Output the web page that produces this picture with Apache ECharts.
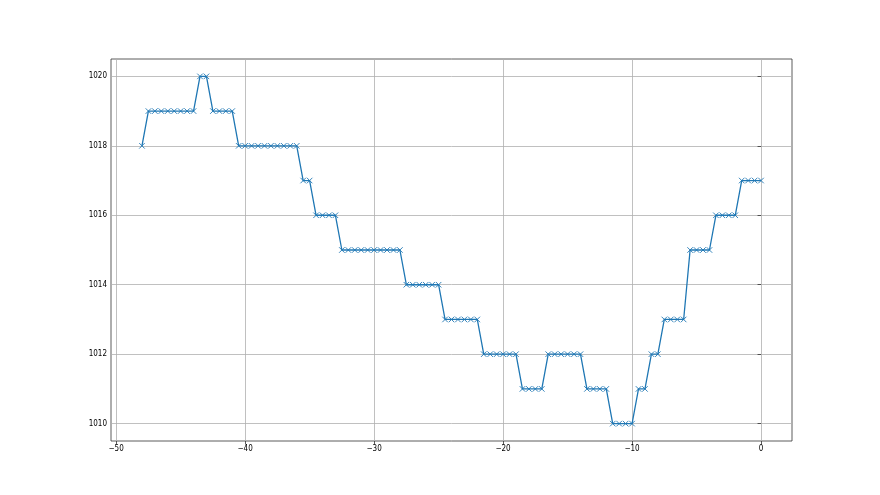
<!DOCTYPE html>
<html>
<head>
<meta charset="utf-8">
<script src="https://cdn.jsdelivr.net/npm/echarts@6/dist/echarts.min.js"></script>
<style>
html,body{margin:0;padding:0;background:#fff;}
#chart{width:880px;height:495px;}
</style>
</head>
<body>
<div id="chart"></div>
<script>
const xValues = [
  -48, -47.5, -47, -46.5, -46, -45.5, -45, -44.5, -44, -43.5, -43, -42.5, -42, -41.5, -41, -40.5,
  -40, -39.5, -39, -38.5, -38, -37.5, -37, -36.5, -36, -35.5, -35, -34.5, -34, -33.5, -33, -32.5,
  -32, -31.5, -31, -30.5, -30, -29.5, -29, -28.5, -28, -27.5, -27, -26.5, -26, -25.5, -25, -24.5,
  -24, -23.5, -23, -22.5, -22, -21.5, -21, -20.5, -20, -19.5, -19, -18.5, -18, -17.5, -17, -16.5,
  -16, -15.5, -15, -14.5, -14, -13.5, -13, -12.5, -12, -11.5, -11, -10.5, -10, -9.5, -9, -8.5,
  -8, -7.5, -7, -6.5, -6, -5.5, -5, -4.5, -4, -3.5, -3, -2.5, -2, -1.5, -1, -0.5, 0
];
const pressure = [
  1018,
  1019, 1019, 1019, 1019, 1019, 1019, 1019, 1019,
  1020, 1020,
  1019, 1019, 1019, 1019,
  1018, 1018, 1018, 1018, 1018, 1018, 1018, 1018, 1018, 1018,
  1017, 1017,
  1016, 1016, 1016, 1016,
  1015, 1015, 1015, 1015, 1015, 1015, 1015, 1015, 1015, 1015,
  1014, 1014, 1014, 1014, 1014, 1014,
  1013, 1013, 1013, 1013, 1013, 1013,
  1012, 1012, 1012, 1012, 1012, 1012,
  1011, 1011, 1011, 1011,
  1012, 1012, 1012, 1012, 1012, 1012,
  1011, 1011, 1011, 1011,
  1010, 1010, 1010, 1010,
  1011, 1011,
  1012, 1012,
  1013, 1013, 1013, 1013,
  1015, 1015, 1015, 1015,
  1016, 1016, 1016, 1016,
  1017, 1017, 1017, 1017
];
const xTicks = [-50, -40, -30, -20, -10, 0];
const yTicks = [1010, 1012, 1014, 1016, 1018, 1020];

const chart = echarts.init(document.getElementById('chart'), null, {renderer: 'canvas'});
const fontFamily = "'DejaVu Sans Condensed', 'DejaVu Sans', sans-serif";
const fmt = v => String(v).replace('-', '\u2212');

chart.setOption({
  animation: false,
  backgroundColor: '#ffffff',
  grid: {
    left: 111, right: 88, top: 59, bottom: 54,
    show: true, borderColor: '#333333', borderWidth: 0.8, backgroundColor: 'transparent'
  },
  xAxis: {
    type: 'value',
    min: -50.4, max: 2.4,
    axisLine: {show: false},
    axisTick: {show: true, customValues: xTicks, length: 3.5, lineStyle: {color: '#333333', width: 0.8}},
    axisLabel: {customValues: xTicks, formatter: fmt, color: '#000', fontSize: 8, fontFamily: fontFamily, margin: 4},
    splitLine: {show: true, lineStyle: {color: '#b0b0b0', width: 0.8}}
  },
  yAxis: {
    type: 'value',
    min: 1009.5, max: 1020.5,
    axisLine: {show: false},
    axisTick: {show: true, customValues: yTicks, length: 3.5, lineStyle: {color: '#333333', width: 0.8}},
    axisLabel: {customValues: yTicks, formatter: fmt, color: '#000', fontSize: 8, fontFamily: fontFamily, margin: 4},
    splitLine: {show: true, lineStyle: {color: '#b0b0b0', width: 0.8}}
  },
  series: [{
    type: 'line',
    data: xValues.map((x, i) => [x, pressure[i]]),
    symbol: 'path://M0,0L10,10M10,0L0,10',
    symbolSize: 5.5,
    showSymbol: true,
    lineStyle: {color: '#1f77b4', width: 1.3},
    itemStyle: {color: '#1f77b4', borderColor: '#1f77b4', borderWidth: 0.9},
    z: 3
  }]
});
</script>
</body>
</html>
